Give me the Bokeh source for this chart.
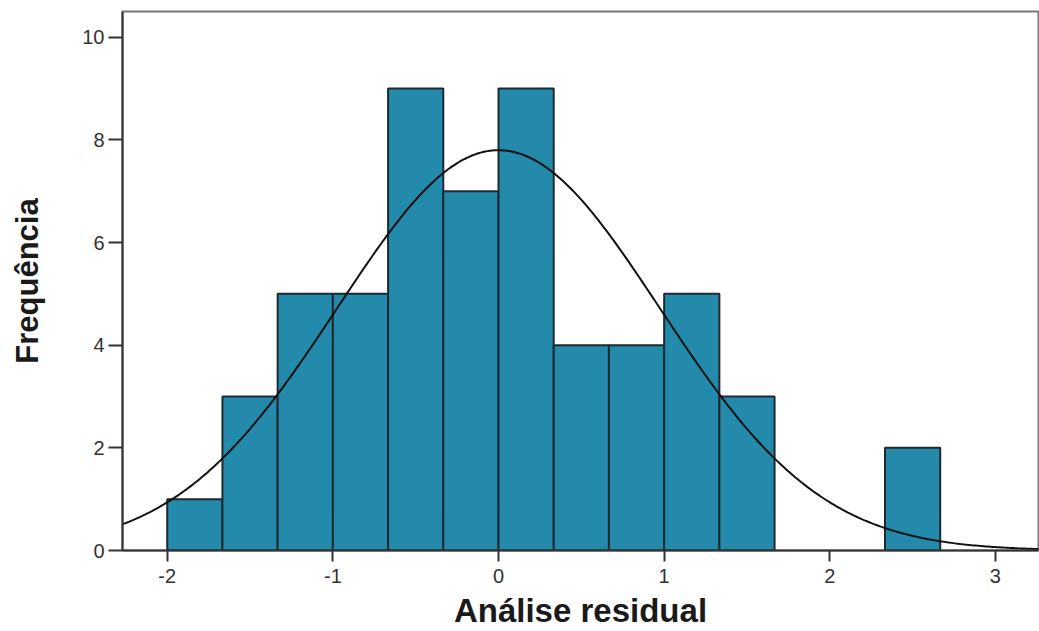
import numpy as np
from bokeh.plotting import figure
from bokeh.models import Range1d, FixedTicker
from bokeh.embed import file_html
from bokeh.resources import INLINE

# histogram bins (width 1/3) and counts
bin_left = [-2.0, -5/3, -4/3, -1.0, -2/3, -1/3, 0.0, 1/3, 2/3, 1.0, 4/3, 5/3, 2.0, 7/3]
bin_right = [-5/3, -4/3, -1.0, -2/3, -1/3, 0.0, 1/3, 2/3, 1.0, 4/3, 5/3, 2.0, 7/3, 8/3]
counts = [1, 3, 5, 5, 9, 7, 9, 4, 4, 5, 3, 0, 0, 2]

# fitted normal curve parameters
mean = 0.0
sd = 0.972
n_total = sum(counts)
bin_width = 1/3

x_ticks = [-2, -1, 0, 1, 2, 3]
x_tick_labels = ["-2", "-1", "0", "1", "2", "3"]
y_ticks = [0, 2, 4, 6, 8, 10]

p = figure(width=1039, height=631, output_backend="svg", toolbar_location=None,
           x_range=Range1d(-2.27, 3.26), y_range=Range1d(0, 10.5),
           min_border_left=122, min_border_right=1, min_border_top=11, min_border_bottom=80)

keep = [i for i, c in enumerate(counts) if c > 0]
p.quad(left=[bin_left[i] for i in keep], right=[bin_right[i] for i in keep],
       bottom=0, top=[counts[i] for i in keep],
       fill_color="#238aac", line_color="#1e2a30", line_width=2)

xs = np.linspace(-2.27, 3.26, 400)
ys = n_total * bin_width / (sd * np.sqrt(2 * np.pi)) * np.exp(-0.5 * ((xs - mean) / sd) ** 2)
p.line(xs, ys, line_color="#111111", line_width=2)

p.xgrid.visible = False
p.ygrid.visible = False
p.outline_line_color = "#777777"
p.outline_line_width = 2
p.background_fill_color = "white"
p.border_fill_color = "white"

for ax in (p.xaxis[0], p.yaxis[0]):
    ax.axis_line_color = "#333333"
    ax.axis_line_width = 2
    ax.major_tick_line_color = "#333333"
    ax.major_tick_line_width = 2
    ax.major_tick_in = 0
    ax.minor_tick_line_color = None
    ax.major_label_text_font = "Liberation Sans"
    ax.major_label_text_font_size = "20px"
    ax.major_label_text_color = "#333333"
    ax.axis_label_text_font = "Liberation Sans"
    ax.axis_label_text_font_style = "bold"
    ax.axis_label_text_color = "#1a1a1a"

p.xaxis[0].ticker = FixedTicker(ticks=x_ticks)
p.xaxis[0].major_label_overrides = {t: s for t, s in zip(x_ticks, x_tick_labels)}
p.yaxis[0].ticker = FixedTicker(ticks=y_ticks)
p.xaxis[0].major_tick_out = 11
p.yaxis[0].major_tick_out = 14
p.xaxis[0].axis_label = "Análise residual"
p.xaxis[0].axis_label_text_font_size = "33px"
p.xaxis[0].axis_label_standoff = 6
p.yaxis[0].axis_label = "Frequência"
p.yaxis[0].axis_label_text_font_size = "31px"
p.yaxis[0].axis_label_standoff = 34
p.yaxis[0].major_label_standoff = 4
p.xaxis[0].major_label_standoff = 7

open("out.html", "w").write(file_html(p, INLINE))
